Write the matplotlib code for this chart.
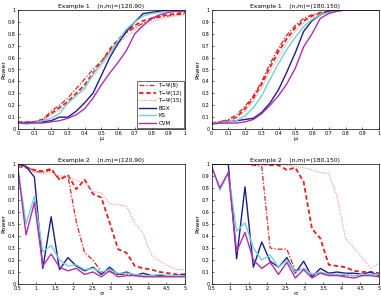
import numpy as np
import matplotlib
matplotlib.use("Agg")
import matplotlib.pyplot as plt

mu = np.round(np.arange(0, 1.0001, 0.05), 2)
sigma = np.linspace(0.5, 5, 21)

labels = ["T\u2212\u03a8(8)", "T\u2212\u03a8(12)", "T\u2212\u03a8(15)", "BGX", "KS", "CVM"]

# Example 1, (n,m)=(120,90)
e1a_t8  = [0.06,0.06,0.06,0.08,0.15,0.20,0.26,0.34,0.42,0.50,0.57,0.65,0.74,0.81,0.85,0.89,0.92,0.94,0.95,0.96,0.97]
e1a_t12 = [0.06,0.06,0.06,0.08,0.13,0.18,0.23,0.30,0.37,0.47,0.56,0.67,0.75,0.82,0.87,0.91,0.93,0.95,0.96,0.97,0.98]
e1a_t15 = [0.06,0.06,0.06,0.07,0.12,0.16,0.21,0.28,0.36,0.44,0.53,0.63,0.71,0.78,0.83,0.87,0.90,0.92,0.94,0.95,0.96]
e1a_bgx = [0.05,0.05,0.055,0.06,0.07,0.10,0.10,0.15,0.22,0.30,0.45,0.60,0.72,0.82,0.90,0.97,0.98,0.99,1.00,1.00,1.00]
e1a_ks  = [0.05,0.04,0.05,0.07,0.09,0.13,0.22,0.28,0.34,0.46,0.55,0.64,0.74,0.84,0.90,0.95,0.97,0.98,0.99,0.99,1.00]
e1a_cvm = [0.05,0.05,0.05,0.05,0.06,0.07,0.09,0.12,0.17,0.26,0.37,0.47,0.56,0.66,0.80,0.87,0.93,0.96,0.98,0.99,0.99]

# Example 1, (n,m)=(180,150)
e1b_t8  = [0.05,0.06,0.08,0.12,0.19,0.28,0.40,0.55,0.68,0.79,0.87,0.93,0.96,0.98,0.99,1.00,1.00,1.00,1.00,1.00,1.00]
e1b_t12 = [0.05,0.06,0.07,0.10,0.17,0.26,0.38,0.52,0.65,0.76,0.85,0.91,0.95,0.97,0.99,1.00,1.00,1.00,1.00,1.00,1.00]
e1b_t15 = [0.05,0.06,0.07,0.09,0.15,0.23,0.35,0.48,0.60,0.72,0.82,0.89,0.94,0.97,0.98,0.99,1.00,1.00,1.00,1.00,1.00]
e1b_bgx = [0.05,0.05,0.06,0.07,0.08,0.09,0.14,0.22,0.33,0.48,0.64,0.82,0.91,0.96,0.99,1.00,1.00,1.00,1.00,1.00,1.00]
e1b_ks  = [0.05,0.05,0.06,0.07,0.11,0.18,0.28,0.42,0.55,0.67,0.77,0.86,0.92,0.96,0.98,0.99,1.00,1.00,1.00,1.00,1.00]
e1b_cvm = [0.04,0.05,0.05,0.05,0.06,0.08,0.13,0.20,0.28,0.38,0.51,0.69,0.80,0.93,0.97,0.99,1.00,1.00,1.00,1.00,1.00]

# Example 2, (n,m)=(120,90)
e2a_t8  = [0.98,0.98,0.94,0.93,0.95,0.87,0.90,0.52,0.26,0.20,0.10,0.10,0.08,0.08,0.07,0.07,0.07,0.07,0.07,0.07,0.07]
e2a_t12 = [0.98,0.97,0.95,0.94,0.96,0.87,0.91,0.79,0.87,0.75,0.72,0.51,0.29,0.26,0.15,0.13,0.12,0.10,0.09,0.08,0.08]
e2a_t15 = [0.98,0.97,0.93,0.92,0.93,0.90,0.90,0.86,0.85,0.77,0.76,0.67,0.66,0.65,0.51,0.42,0.24,0.19,0.15,0.12,0.12]
e2a_bgx = [1.00,0.98,0.89,0.13,0.56,0.12,0.22,0.15,0.11,0.14,0.08,0.14,0.08,0.10,0.07,0.09,0.07,0.07,0.07,0.07,0.08]
e2a_ks  = [0.98,0.50,0.73,0.27,0.32,0.20,0.15,0.16,0.12,0.13,0.10,0.12,0.09,0.09,0.08,0.07,0.07,0.08,0.07,0.07,0.07]
e2a_cvm = [0.97,0.41,0.68,0.15,0.25,0.14,0.11,0.13,0.08,0.10,0.06,0.11,0.06,0.07,0.07,0.06,0.06,0.06,0.06,0.06,0.06]

# Example 2, (n,m)=(180,150)
e2b_t8  = [1.00,1.00,1.00,1.00,1.00,0.99,0.98,0.30,0.29,0.29,0.11,0.13,0.08,0.09,0.08,0.08,0.07,0.07,0.07,0.08,0.08]
e2b_t12 = [1.00,1.00,1.00,1.00,1.00,1.00,1.00,0.99,0.99,0.95,0.97,0.85,0.46,0.38,0.16,0.15,0.14,0.11,0.10,0.10,0.09]
e2b_t15 = [1.00,1.00,1.00,1.00,1.00,1.00,1.00,1.00,1.00,0.99,0.98,0.97,0.95,0.93,0.92,0.73,0.38,0.30,0.22,0.13,0.17]
e2b_bgx = [1.00,1.00,1.00,0.21,0.81,0.14,0.35,0.19,0.14,0.22,0.09,0.19,0.06,0.13,0.09,0.10,0.09,0.09,0.08,0.10,0.07]
e2b_ks  = [0.99,0.78,0.92,0.44,0.51,0.30,0.20,0.24,0.14,0.20,0.10,0.13,0.08,0.10,0.08,0.08,0.08,0.07,0.08,0.08,0.08]
e2b_cvm = [0.98,0.80,0.93,0.27,0.43,0.20,0.13,0.18,0.08,0.18,0.05,0.12,0.05,0.09,0.07,0.07,0.06,0.05,0.07,0.07,0.06]

titles = ["Example 1    (n,m)=(120,90)", "Example 1    (n,m)=(180,150)",
          "Example 2    (n,m)=(120,90)", "Example 2    (n,m)=(180,150)"]

styles = [
    dict(color="#e02020", ls=(0, (4, 1.5, 1, 1.5)), lw=0.9),
    dict(color="#e02020", ls=(0, (2.5, 1.5)), lw=1.3),
    dict(color="#f09a9a", ls=(0, (1, 1)), lw=0.8),
    dict(color="#1c1c8c", ls="-", lw=1.0),
    dict(color="#70d2d2", ls="-", lw=1.0),
    dict(color="#b02cb0", ls="-", lw=1.0),
]

panels = [
    (mu, [e1a_t8, e1a_t12, e1a_t15, e1a_bgx, e1a_ks, e1a_cvm]),
    (mu, [e1b_t8, e1b_t12, e1b_t15, e1b_bgx, e1b_ks, e1b_cvm]),
    (sigma, [e2a_t8, e2a_t12, e2a_t15, e2a_bgx, e2a_ks, e2a_cvm]),
    (sigma, [e2b_t8, e2b_t12, e2b_t15, e2b_bgx, e2b_ks, e2b_cvm]),
]

W, H = 381, 296
fig = plt.figure(figsize=(W / 100, H / 100), dpi=100)
rects = [
    (17.7, 10, 185, 129),
    (211.5, 10, 379, 129),
    (17.7, 164, 185, 284),
    (211.5, 164, 379, 284),
]

for i, ((x, series), (l, t, r, b)) in enumerate(zip(panels, rects)):
    ax = fig.add_axes([l / W, 1 - b / H, (r - l) / W, (b - t) / H])
    for y, st, lab in zip(series, styles, labels):
        ax.plot(x, y, label=lab, **st)
    ax.set_ylim(0, 1)
    ax.set_yticks(np.arange(0, 1.01, 0.1))
    ax.set_yticklabels(["0"] + ["%.1f" % v for v in np.arange(0.1, 0.95, 0.1)] + ["1"])
    if i < 2:
        ax.set_xlim(0, 1)
        ax.set_xticks(np.arange(0, 1.01, 0.1))
        ax.set_xticklabels(["0"] + ["%.1f" % v for v in np.arange(0.1, 0.95, 0.1)] + ["1"])
        ax.set_xlabel("\u03bc", fontsize=4.5, labelpad=0)
    else:
        ax.set_xlim(0.5, 5)
        ticks = np.arange(0.5, 5.01, 0.5)
        ax.set_xticks(ticks)
        ax.set_xticklabels(["%g" % v for v in ticks])
        ax.set_xlabel("\u03c3", fontsize=4.5, labelpad=-0.5)
    ax.set_ylabel("Power", fontsize=4.5, labelpad=1)
    ax.set_title(titles[i], fontsize=4.3, pad=1.5)
    ax.tick_params(labelsize=3.5, length=1.5, width=0.4, direction="in")
    ax.tick_params(axis="x", pad=1.8)
    ax.tick_params(axis="y", pad=1.6)
    for s in ax.spines.values():
        s.set_linewidth(0.5)
    if i == 0:
        leg = ax.legend(loc="lower right", fontsize=4, frameon=True, fancybox=False,
                        edgecolor="black", handlelength=3, borderpad=0.35,
                        labelspacing=0.45, handletextpad=0.5, borderaxespad=0.2)
        leg.get_frame().set_linewidth(0.5)

fig.savefig("out.png", dpi=100)
